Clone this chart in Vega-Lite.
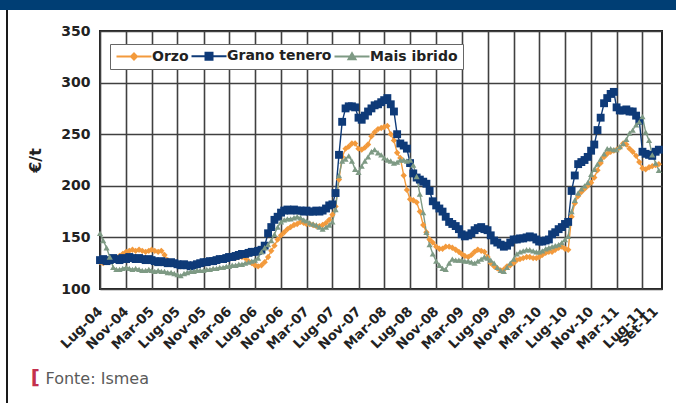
{
  "$schema": "https://vega.github.io/schema/vega-lite/v6.json",
  "background": "white",
  "padding": 0,
  "config": {"view": {"stroke": null}, "font": "DejaVu Sans"},
  "datasets": {
    "prices": [
      {"s":"Orzo","d":"2004-07-01","v":126},{"s":"Orzo","d":"2004-07-16","v":125},{"s":"Orzo","d":"2004-08-01","v":126},{"s":"Orzo","d":"2004-08-16","v":127},{"s":"Orzo","d":"2004-09-01","v":128},{"s":"Orzo","d":"2004-09-16","v":130},{"s":"Orzo","d":"2004-10-01","v":132},{"s":"Orzo","d":"2004-10-16","v":134},{"s":"Orzo","d":"2004-11-01","v":136},{"s":"Orzo","d":"2004-11-16","v":137},{"s":"Orzo","d":"2004-12-01","v":138},{"s":"Orzo","d":"2004-12-16","v":137},
      {"s":"Orzo","d":"2005-01-01","v":138},{"s":"Orzo","d":"2005-01-16","v":137},{"s":"Orzo","d":"2005-02-01","v":136},{"s":"Orzo","d":"2005-02-16","v":137},{"s":"Orzo","d":"2005-03-01","v":138},{"s":"Orzo","d":"2005-03-16","v":137},{"s":"Orzo","d":"2005-04-01","v":136},{"s":"Orzo","d":"2005-04-16","v":137},{"s":"Orzo","d":"2005-05-01","v":133},{"s":"Orzo","d":"2005-05-16","v":128},{"s":"Orzo","d":"2005-06-01","v":125},{"s":"Orzo","d":"2005-06-16","v":124},{"s":"Orzo","d":"2005-07-01","v":123},{"s":"Orzo","d":"2005-07-16","v":122},{"s":"Orzo","d":"2005-08-01","v":123},{"s":"Orzo","d":"2005-08-16","v":122},{"s":"Orzo","d":"2005-09-01","v":123},{"s":"Orzo","d":"2005-09-16","v":124},{"s":"Orzo","d":"2005-10-01","v":124},{"s":"Orzo","d":"2005-10-16","v":125},{"s":"Orzo","d":"2005-11-01","v":125},{"s":"Orzo","d":"2005-11-16","v":126},{"s":"Orzo","d":"2005-12-01","v":126},{"s":"Orzo","d":"2005-12-16","v":127},
      {"s":"Orzo","d":"2006-01-01","v":127},{"s":"Orzo","d":"2006-01-16","v":128},{"s":"Orzo","d":"2006-02-01","v":128},{"s":"Orzo","d":"2006-02-16","v":129},{"s":"Orzo","d":"2006-03-01","v":129},{"s":"Orzo","d":"2006-03-16","v":130},{"s":"Orzo","d":"2006-04-01","v":130},{"s":"Orzo","d":"2006-04-16","v":131},{"s":"Orzo","d":"2006-05-01","v":131},{"s":"Orzo","d":"2006-05-16","v":130},{"s":"Orzo","d":"2006-06-01","v":127},{"s":"Orzo","d":"2006-06-16","v":125},{"s":"Orzo","d":"2006-07-01","v":123},{"s":"Orzo","d":"2006-07-16","v":122},{"s":"Orzo","d":"2006-08-01","v":123},{"s":"Orzo","d":"2006-08-16","v":126},{"s":"Orzo","d":"2006-09-01","v":131},{"s":"Orzo","d":"2006-09-16","v":137},{"s":"Orzo","d":"2006-10-01","v":142},{"s":"Orzo","d":"2006-10-16","v":148},{"s":"Orzo","d":"2006-11-01","v":152},{"s":"Orzo","d":"2006-11-16","v":155},{"s":"Orzo","d":"2006-12-01","v":158},{"s":"Orzo","d":"2006-12-16","v":160},
      {"s":"Orzo","d":"2007-01-01","v":162},{"s":"Orzo","d":"2007-01-16","v":163},{"s":"Orzo","d":"2007-02-01","v":165},{"s":"Orzo","d":"2007-02-16","v":164},{"s":"Orzo","d":"2007-03-01","v":163},{"s":"Orzo","d":"2007-03-16","v":163},{"s":"Orzo","d":"2007-04-01","v":162},{"s":"Orzo","d":"2007-04-16","v":161},{"s":"Orzo","d":"2007-05-01","v":161},{"s":"Orzo","d":"2007-05-16","v":162},{"s":"Orzo","d":"2007-06-01","v":164},{"s":"Orzo","d":"2007-06-16","v":167},{"s":"Orzo","d":"2007-07-01","v":172},{"s":"Orzo","d":"2007-07-16","v":180},{"s":"Orzo","d":"2007-08-01","v":206},{"s":"Orzo","d":"2007-08-16","v":228},{"s":"Orzo","d":"2007-09-01","v":236},{"s":"Orzo","d":"2007-09-16","v":238},{"s":"Orzo","d":"2007-10-01","v":241},{"s":"Orzo","d":"2007-10-16","v":241},{"s":"Orzo","d":"2007-11-01","v":236},{"s":"Orzo","d":"2007-11-16","v":235},{"s":"Orzo","d":"2007-12-01","v":237},{"s":"Orzo","d":"2007-12-16","v":240},
      {"s":"Orzo","d":"2008-01-01","v":248},{"s":"Orzo","d":"2008-01-16","v":252},{"s":"Orzo","d":"2008-02-01","v":255},{"s":"Orzo","d":"2008-02-16","v":256},{"s":"Orzo","d":"2008-03-01","v":257},{"s":"Orzo","d":"2008-03-16","v":258},{"s":"Orzo","d":"2008-04-01","v":250},{"s":"Orzo","d":"2008-04-16","v":244},{"s":"Orzo","d":"2008-05-01","v":232},{"s":"Orzo","d":"2008-05-16","v":227},{"s":"Orzo","d":"2008-06-01","v":210},{"s":"Orzo","d":"2008-06-16","v":196},{"s":"Orzo","d":"2008-07-01","v":187},{"s":"Orzo","d":"2008-07-16","v":186},{"s":"Orzo","d":"2008-08-01","v":184},{"s":"Orzo","d":"2008-08-16","v":175},{"s":"Orzo","d":"2008-09-01","v":162},{"s":"Orzo","d":"2008-09-16","v":155},{"s":"Orzo","d":"2008-10-01","v":148},{"s":"Orzo","d":"2008-10-16","v":145},{"s":"Orzo","d":"2008-11-01","v":141},{"s":"Orzo","d":"2008-11-16","v":139},{"s":"Orzo","d":"2008-12-01","v":139},{"s":"Orzo","d":"2008-12-16","v":141},
      {"s":"Orzo","d":"2009-01-01","v":141},{"s":"Orzo","d":"2009-01-16","v":140},{"s":"Orzo","d":"2009-02-01","v":138},{"s":"Orzo","d":"2009-02-16","v":136},{"s":"Orzo","d":"2009-03-01","v":134},{"s":"Orzo","d":"2009-03-16","v":132},{"s":"Orzo","d":"2009-04-01","v":131},{"s":"Orzo","d":"2009-04-16","v":133},{"s":"Orzo","d":"2009-05-01","v":136},{"s":"Orzo","d":"2009-05-16","v":138},{"s":"Orzo","d":"2009-06-01","v":137},{"s":"Orzo","d":"2009-06-16","v":136},{"s":"Orzo","d":"2009-07-01","v":131},{"s":"Orzo","d":"2009-07-16","v":125},{"s":"Orzo","d":"2009-08-01","v":122},{"s":"Orzo","d":"2009-08-16","v":120},{"s":"Orzo","d":"2009-09-01","v":118},{"s":"Orzo","d":"2009-09-16","v":119},{"s":"Orzo","d":"2009-10-01","v":122},{"s":"Orzo","d":"2009-10-16","v":123},{"s":"Orzo","d":"2009-11-01","v":125},{"s":"Orzo","d":"2009-11-16","v":128},{"s":"Orzo","d":"2009-12-01","v":129},{"s":"Orzo","d":"2009-12-16","v":130},
      {"s":"Orzo","d":"2010-01-01","v":131},{"s":"Orzo","d":"2010-01-16","v":131},{"s":"Orzo","d":"2010-02-01","v":130},{"s":"Orzo","d":"2010-02-16","v":130},{"s":"Orzo","d":"2010-03-01","v":131},{"s":"Orzo","d":"2010-03-16","v":133},{"s":"Orzo","d":"2010-04-01","v":135},{"s":"Orzo","d":"2010-04-16","v":136},{"s":"Orzo","d":"2010-05-01","v":136},{"s":"Orzo","d":"2010-05-16","v":138},{"s":"Orzo","d":"2010-06-01","v":140},{"s":"Orzo","d":"2010-06-16","v":141},{"s":"Orzo","d":"2010-07-01","v":139},{"s":"Orzo","d":"2010-07-16","v":138},{"s":"Orzo","d":"2010-08-01","v":170},{"s":"Orzo","d":"2010-08-16","v":183},{"s":"Orzo","d":"2010-09-01","v":190},{"s":"Orzo","d":"2010-09-16","v":194},{"s":"Orzo","d":"2010-10-01","v":197},{"s":"Orzo","d":"2010-10-16","v":200},{"s":"Orzo","d":"2010-11-01","v":203},{"s":"Orzo","d":"2010-11-16","v":208},{"s":"Orzo","d":"2010-12-01","v":215},{"s":"Orzo","d":"2010-12-16","v":222},
      {"s":"Orzo","d":"2011-01-01","v":228},{"s":"Orzo","d":"2011-01-16","v":231},{"s":"Orzo","d":"2011-02-01","v":233},{"s":"Orzo","d":"2011-02-16","v":234},{"s":"Orzo","d":"2011-03-01","v":235},{"s":"Orzo","d":"2011-03-16","v":237},{"s":"Orzo","d":"2011-04-01","v":241},{"s":"Orzo","d":"2011-04-16","v":240},{"s":"Orzo","d":"2011-05-01","v":236},{"s":"Orzo","d":"2011-05-16","v":233},{"s":"Orzo","d":"2011-06-01","v":229},{"s":"Orzo","d":"2011-06-16","v":223},{"s":"Orzo","d":"2011-07-01","v":217},{"s":"Orzo","d":"2011-07-16","v":216},{"s":"Orzo","d":"2011-08-01","v":218},{"s":"Orzo","d":"2011-08-16","v":219},{"s":"Orzo","d":"2011-09-01","v":220},{"s":"Orzo","d":"2011-09-16","v":221},

      {"s":"Grano tenero","d":"2004-07-01","v":128},{"s":"Grano tenero","d":"2004-07-16","v":129},{"s":"Grano tenero","d":"2004-08-01","v":127},{"s":"Grano tenero","d":"2004-08-16","v":128},{"s":"Grano tenero","d":"2004-09-01","v":130},{"s":"Grano tenero","d":"2004-09-16","v":129},{"s":"Grano tenero","d":"2004-10-01","v":128},{"s":"Grano tenero","d":"2004-10-16","v":130},{"s":"Grano tenero","d":"2004-11-01","v":129},{"s":"Grano tenero","d":"2004-11-16","v":131},{"s":"Grano tenero","d":"2004-12-01","v":130},{"s":"Grano tenero","d":"2004-12-16","v":129},
      {"s":"Grano tenero","d":"2005-01-01","v":130},{"s":"Grano tenero","d":"2005-01-16","v":129},{"s":"Grano tenero","d":"2005-02-01","v":128},{"s":"Grano tenero","d":"2005-02-16","v":129},{"s":"Grano tenero","d":"2005-03-01","v":128},{"s":"Grano tenero","d":"2005-03-16","v":127},{"s":"Grano tenero","d":"2005-04-01","v":126},{"s":"Grano tenero","d":"2005-04-16","v":127},{"s":"Grano tenero","d":"2005-05-01","v":126},{"s":"Grano tenero","d":"2005-05-16","v":125},{"s":"Grano tenero","d":"2005-06-01","v":126},{"s":"Grano tenero","d":"2005-06-16","v":125},{"s":"Grano tenero","d":"2005-07-01","v":124},{"s":"Grano tenero","d":"2005-07-16","v":123},{"s":"Grano tenero","d":"2005-08-01","v":124},{"s":"Grano tenero","d":"2005-08-16","v":123},{"s":"Grano tenero","d":"2005-09-01","v":122},{"s":"Grano tenero","d":"2005-09-16","v":123},{"s":"Grano tenero","d":"2005-10-01","v":124},{"s":"Grano tenero","d":"2005-10-16","v":125},{"s":"Grano tenero","d":"2005-11-01","v":126},{"s":"Grano tenero","d":"2005-11-16","v":126},{"s":"Grano tenero","d":"2005-12-01","v":127},{"s":"Grano tenero","d":"2005-12-16","v":127},
      {"s":"Grano tenero","d":"2006-01-01","v":128},{"s":"Grano tenero","d":"2006-01-16","v":129},{"s":"Grano tenero","d":"2006-02-01","v":129},{"s":"Grano tenero","d":"2006-02-16","v":130},{"s":"Grano tenero","d":"2006-03-01","v":131},{"s":"Grano tenero","d":"2006-03-16","v":131},{"s":"Grano tenero","d":"2006-04-01","v":132},{"s":"Grano tenero","d":"2006-04-16","v":133},{"s":"Grano tenero","d":"2006-05-01","v":134},{"s":"Grano tenero","d":"2006-05-16","v":134},{"s":"Grano tenero","d":"2006-06-01","v":135},{"s":"Grano tenero","d":"2006-06-16","v":136},{"s":"Grano tenero","d":"2006-07-01","v":136},{"s":"Grano tenero","d":"2006-07-16","v":137},{"s":"Grano tenero","d":"2006-08-01","v":138},{"s":"Grano tenero","d":"2006-08-16","v":142},{"s":"Grano tenero","d":"2006-09-01","v":154},{"s":"Grano tenero","d":"2006-09-16","v":160},{"s":"Grano tenero","d":"2006-10-01","v":167},{"s":"Grano tenero","d":"2006-10-16","v":170},{"s":"Grano tenero","d":"2006-11-01","v":174},{"s":"Grano tenero","d":"2006-11-16","v":176},{"s":"Grano tenero","d":"2006-12-01","v":177},{"s":"Grano tenero","d":"2006-12-16","v":176},
      {"s":"Grano tenero","d":"2007-01-01","v":177},{"s":"Grano tenero","d":"2007-01-16","v":176},{"s":"Grano tenero","d":"2007-02-01","v":176},{"s":"Grano tenero","d":"2007-02-16","v":175},{"s":"Grano tenero","d":"2007-03-01","v":176},{"s":"Grano tenero","d":"2007-03-16","v":175},{"s":"Grano tenero","d":"2007-04-01","v":175},{"s":"Grano tenero","d":"2007-04-16","v":176},{"s":"Grano tenero","d":"2007-05-01","v":175},{"s":"Grano tenero","d":"2007-05-16","v":176},{"s":"Grano tenero","d":"2007-06-01","v":178},{"s":"Grano tenero","d":"2007-06-16","v":181},{"s":"Grano tenero","d":"2007-07-01","v":182},{"s":"Grano tenero","d":"2007-07-16","v":193},{"s":"Grano tenero","d":"2007-08-01","v":230},{"s":"Grano tenero","d":"2007-08-16","v":262},{"s":"Grano tenero","d":"2007-09-01","v":275},{"s":"Grano tenero","d":"2007-09-16","v":277},{"s":"Grano tenero","d":"2007-10-01","v":277},{"s":"Grano tenero","d":"2007-10-16","v":276},{"s":"Grano tenero","d":"2007-11-01","v":266},{"s":"Grano tenero","d":"2007-11-16","v":264},{"s":"Grano tenero","d":"2007-12-01","v":268},{"s":"Grano tenero","d":"2007-12-16","v":272},
      {"s":"Grano tenero","d":"2008-01-01","v":275},{"s":"Grano tenero","d":"2008-01-16","v":278},{"s":"Grano tenero","d":"2008-02-01","v":279},{"s":"Grano tenero","d":"2008-02-16","v":281},{"s":"Grano tenero","d":"2008-03-01","v":283},{"s":"Grano tenero","d":"2008-03-16","v":285},{"s":"Grano tenero","d":"2008-04-01","v":279},{"s":"Grano tenero","d":"2008-04-16","v":272},{"s":"Grano tenero","d":"2008-05-01","v":250},{"s":"Grano tenero","d":"2008-05-16","v":241},{"s":"Grano tenero","d":"2008-06-01","v":239},{"s":"Grano tenero","d":"2008-06-16","v":236},{"s":"Grano tenero","d":"2008-07-01","v":222},{"s":"Grano tenero","d":"2008-07-16","v":212},{"s":"Grano tenero","d":"2008-08-01","v":208},{"s":"Grano tenero","d":"2008-08-16","v":206},{"s":"Grano tenero","d":"2008-09-01","v":204},{"s":"Grano tenero","d":"2008-09-16","v":202},{"s":"Grano tenero","d":"2008-10-01","v":195},{"s":"Grano tenero","d":"2008-10-16","v":185},{"s":"Grano tenero","d":"2008-11-01","v":181},{"s":"Grano tenero","d":"2008-11-16","v":178},{"s":"Grano tenero","d":"2008-12-01","v":175},{"s":"Grano tenero","d":"2008-12-16","v":170},
      {"s":"Grano tenero","d":"2009-01-01","v":165},{"s":"Grano tenero","d":"2009-01-16","v":163},{"s":"Grano tenero","d":"2009-02-01","v":161},{"s":"Grano tenero","d":"2009-02-16","v":158},{"s":"Grano tenero","d":"2009-03-01","v":153},{"s":"Grano tenero","d":"2009-03-16","v":151},{"s":"Grano tenero","d":"2009-04-01","v":152},{"s":"Grano tenero","d":"2009-04-16","v":154},{"s":"Grano tenero","d":"2009-05-01","v":157},{"s":"Grano tenero","d":"2009-05-16","v":159},{"s":"Grano tenero","d":"2009-06-01","v":160},{"s":"Grano tenero","d":"2009-06-16","v":158},{"s":"Grano tenero","d":"2009-07-01","v":157},{"s":"Grano tenero","d":"2009-07-16","v":152},{"s":"Grano tenero","d":"2009-08-01","v":147},{"s":"Grano tenero","d":"2009-08-16","v":145},{"s":"Grano tenero","d":"2009-09-01","v":143},{"s":"Grano tenero","d":"2009-09-16","v":141},{"s":"Grano tenero","d":"2009-10-01","v":142},{"s":"Grano tenero","d":"2009-10-16","v":145},{"s":"Grano tenero","d":"2009-11-01","v":148},{"s":"Grano tenero","d":"2009-11-16","v":148},{"s":"Grano tenero","d":"2009-12-01","v":149},{"s":"Grano tenero","d":"2009-12-16","v":149},
      {"s":"Grano tenero","d":"2010-01-01","v":150},{"s":"Grano tenero","d":"2010-01-16","v":151},{"s":"Grano tenero","d":"2010-02-01","v":150},{"s":"Grano tenero","d":"2010-02-16","v":148},{"s":"Grano tenero","d":"2010-03-01","v":146},{"s":"Grano tenero","d":"2010-03-16","v":146},{"s":"Grano tenero","d":"2010-04-01","v":147},{"s":"Grano tenero","d":"2010-04-16","v":148},{"s":"Grano tenero","d":"2010-05-01","v":153},{"s":"Grano tenero","d":"2010-05-16","v":155},{"s":"Grano tenero","d":"2010-06-01","v":158},{"s":"Grano tenero","d":"2010-06-16","v":160},{"s":"Grano tenero","d":"2010-07-01","v":163},{"s":"Grano tenero","d":"2010-07-16","v":165},{"s":"Grano tenero","d":"2010-08-01","v":195},{"s":"Grano tenero","d":"2010-08-16","v":210},{"s":"Grano tenero","d":"2010-09-01","v":221},{"s":"Grano tenero","d":"2010-09-16","v":223},{"s":"Grano tenero","d":"2010-10-01","v":225},{"s":"Grano tenero","d":"2010-10-16","v":228},{"s":"Grano tenero","d":"2010-11-01","v":234},{"s":"Grano tenero","d":"2010-11-16","v":240},{"s":"Grano tenero","d":"2010-12-01","v":254},{"s":"Grano tenero","d":"2010-12-16","v":266},
      {"s":"Grano tenero","d":"2011-01-01","v":280},{"s":"Grano tenero","d":"2011-01-16","v":285},{"s":"Grano tenero","d":"2011-02-01","v":289},{"s":"Grano tenero","d":"2011-02-16","v":291},{"s":"Grano tenero","d":"2011-03-01","v":276},{"s":"Grano tenero","d":"2011-03-16","v":273},{"s":"Grano tenero","d":"2011-04-01","v":273},{"s":"Grano tenero","d":"2011-04-16","v":274},{"s":"Grano tenero","d":"2011-05-01","v":272},{"s":"Grano tenero","d":"2011-05-16","v":272},{"s":"Grano tenero","d":"2011-06-01","v":268},{"s":"Grano tenero","d":"2011-06-16","v":263},{"s":"Grano tenero","d":"2011-07-01","v":233},{"s":"Grano tenero","d":"2011-07-16","v":231},{"s":"Grano tenero","d":"2011-08-01","v":230},{"s":"Grano tenero","d":"2011-08-16","v":229},{"s":"Grano tenero","d":"2011-09-01","v":233},{"s":"Grano tenero","d":"2011-09-16","v":235},

      {"s":"Mais ibrido","d":"2004-07-01","v":154},{"s":"Mais ibrido","d":"2004-07-16","v":147},{"s":"Mais ibrido","d":"2004-08-01","v":140},{"s":"Mais ibrido","d":"2004-08-16","v":131},{"s":"Mais ibrido","d":"2004-09-01","v":121},{"s":"Mais ibrido","d":"2004-09-16","v":119},{"s":"Mais ibrido","d":"2004-10-01","v":119},{"s":"Mais ibrido","d":"2004-10-16","v":120},{"s":"Mais ibrido","d":"2004-11-01","v":121},{"s":"Mais ibrido","d":"2004-11-16","v":120},{"s":"Mais ibrido","d":"2004-12-01","v":119},{"s":"Mais ibrido","d":"2004-12-16","v":120},
      {"s":"Mais ibrido","d":"2005-01-01","v":119},{"s":"Mais ibrido","d":"2005-01-16","v":118},{"s":"Mais ibrido","d":"2005-02-01","v":118},{"s":"Mais ibrido","d":"2005-02-16","v":119},{"s":"Mais ibrido","d":"2005-03-01","v":118},{"s":"Mais ibrido","d":"2005-03-16","v":117},{"s":"Mais ibrido","d":"2005-04-01","v":118},{"s":"Mais ibrido","d":"2005-04-16","v":117},{"s":"Mais ibrido","d":"2005-05-01","v":117},{"s":"Mais ibrido","d":"2005-05-16","v":116},{"s":"Mais ibrido","d":"2005-06-01","v":116},{"s":"Mais ibrido","d":"2005-06-16","v":115},{"s":"Mais ibrido","d":"2005-07-01","v":114},{"s":"Mais ibrido","d":"2005-07-16","v":113},{"s":"Mais ibrido","d":"2005-08-01","v":115},{"s":"Mais ibrido","d":"2005-08-16","v":116},{"s":"Mais ibrido","d":"2005-09-01","v":117},{"s":"Mais ibrido","d":"2005-09-16","v":117},{"s":"Mais ibrido","d":"2005-10-01","v":118},{"s":"Mais ibrido","d":"2005-10-16","v":118},{"s":"Mais ibrido","d":"2005-11-01","v":118},{"s":"Mais ibrido","d":"2005-11-16","v":119},{"s":"Mais ibrido","d":"2005-12-01","v":119},{"s":"Mais ibrido","d":"2005-12-16","v":120},
      {"s":"Mais ibrido","d":"2006-01-01","v":120},{"s":"Mais ibrido","d":"2006-01-16","v":121},{"s":"Mais ibrido","d":"2006-02-01","v":121},{"s":"Mais ibrido","d":"2006-02-16","v":122},{"s":"Mais ibrido","d":"2006-03-01","v":122},{"s":"Mais ibrido","d":"2006-03-16","v":123},{"s":"Mais ibrido","d":"2006-04-01","v":123},{"s":"Mais ibrido","d":"2006-04-16","v":124},{"s":"Mais ibrido","d":"2006-05-01","v":124},{"s":"Mais ibrido","d":"2006-05-16","v":125},{"s":"Mais ibrido","d":"2006-06-01","v":126},{"s":"Mais ibrido","d":"2006-06-16","v":127},{"s":"Mais ibrido","d":"2006-07-01","v":128},{"s":"Mais ibrido","d":"2006-07-16","v":130},{"s":"Mais ibrido","d":"2006-08-01","v":136},{"s":"Mais ibrido","d":"2006-08-16","v":140},{"s":"Mais ibrido","d":"2006-09-01","v":143},{"s":"Mais ibrido","d":"2006-09-16","v":147},{"s":"Mais ibrido","d":"2006-10-01","v":153},{"s":"Mais ibrido","d":"2006-10-16","v":160},{"s":"Mais ibrido","d":"2006-11-01","v":165},{"s":"Mais ibrido","d":"2006-11-16","v":167},{"s":"Mais ibrido","d":"2006-12-01","v":168},{"s":"Mais ibrido","d":"2006-12-16","v":168},
      {"s":"Mais ibrido","d":"2007-01-01","v":169},{"s":"Mais ibrido","d":"2007-01-16","v":170},{"s":"Mais ibrido","d":"2007-02-01","v":169},{"s":"Mais ibrido","d":"2007-02-16","v":167},{"s":"Mais ibrido","d":"2007-03-01","v":166},{"s":"Mais ibrido","d":"2007-03-16","v":164},{"s":"Mais ibrido","d":"2007-04-01","v":163},{"s":"Mais ibrido","d":"2007-04-16","v":162},{"s":"Mais ibrido","d":"2007-05-01","v":160},{"s":"Mais ibrido","d":"2007-05-16","v":158},{"s":"Mais ibrido","d":"2007-06-01","v":160},{"s":"Mais ibrido","d":"2007-06-16","v":162},{"s":"Mais ibrido","d":"2007-07-01","v":165},{"s":"Mais ibrido","d":"2007-07-16","v":177},{"s":"Mais ibrido","d":"2007-08-01","v":210},{"s":"Mais ibrido","d":"2007-08-16","v":224},{"s":"Mais ibrido","d":"2007-09-01","v":226},{"s":"Mais ibrido","d":"2007-09-16","v":229},{"s":"Mais ibrido","d":"2007-10-01","v":224},{"s":"Mais ibrido","d":"2007-10-16","v":216},{"s":"Mais ibrido","d":"2007-11-01","v":213},{"s":"Mais ibrido","d":"2007-11-16","v":219},{"s":"Mais ibrido","d":"2007-12-01","v":224},{"s":"Mais ibrido","d":"2007-12-16","v":228},
      {"s":"Mais ibrido","d":"2008-01-01","v":233},{"s":"Mais ibrido","d":"2008-01-16","v":235},{"s":"Mais ibrido","d":"2008-02-01","v":232},{"s":"Mais ibrido","d":"2008-02-16","v":230},{"s":"Mais ibrido","d":"2008-03-01","v":227},{"s":"Mais ibrido","d":"2008-03-16","v":225},{"s":"Mais ibrido","d":"2008-04-01","v":224},{"s":"Mais ibrido","d":"2008-04-16","v":222},{"s":"Mais ibrido","d":"2008-05-01","v":223},{"s":"Mais ibrido","d":"2008-05-16","v":225},{"s":"Mais ibrido","d":"2008-06-01","v":225},{"s":"Mais ibrido","d":"2008-06-16","v":224},{"s":"Mais ibrido","d":"2008-07-01","v":225},{"s":"Mais ibrido","d":"2008-07-16","v":220},{"s":"Mais ibrido","d":"2008-08-01","v":209},{"s":"Mais ibrido","d":"2008-08-16","v":192},{"s":"Mais ibrido","d":"2008-09-01","v":174},{"s":"Mais ibrido","d":"2008-09-16","v":155},{"s":"Mais ibrido","d":"2008-10-01","v":143},{"s":"Mais ibrido","d":"2008-10-16","v":134},{"s":"Mais ibrido","d":"2008-11-01","v":127},{"s":"Mais ibrido","d":"2008-11-16","v":123},{"s":"Mais ibrido","d":"2008-12-01","v":120},{"s":"Mais ibrido","d":"2008-12-16","v":119},
      {"s":"Mais ibrido","d":"2009-01-01","v":125},{"s":"Mais ibrido","d":"2009-01-16","v":129},{"s":"Mais ibrido","d":"2009-02-01","v":128},{"s":"Mais ibrido","d":"2009-02-16","v":128},{"s":"Mais ibrido","d":"2009-03-01","v":128},{"s":"Mais ibrido","d":"2009-03-16","v":127},{"s":"Mais ibrido","d":"2009-04-01","v":127},{"s":"Mais ibrido","d":"2009-04-16","v":126},{"s":"Mais ibrido","d":"2009-05-01","v":125},{"s":"Mais ibrido","d":"2009-05-16","v":127},{"s":"Mais ibrido","d":"2009-06-01","v":129},{"s":"Mais ibrido","d":"2009-06-16","v":131},{"s":"Mais ibrido","d":"2009-07-01","v":130},{"s":"Mais ibrido","d":"2009-07-16","v":128},{"s":"Mais ibrido","d":"2009-08-01","v":125},{"s":"Mais ibrido","d":"2009-08-16","v":121},{"s":"Mais ibrido","d":"2009-09-01","v":118},{"s":"Mais ibrido","d":"2009-09-16","v":117},{"s":"Mais ibrido","d":"2009-10-01","v":121},{"s":"Mais ibrido","d":"2009-10-16","v":125},{"s":"Mais ibrido","d":"2009-11-01","v":129},{"s":"Mais ibrido","d":"2009-11-16","v":134},{"s":"Mais ibrido","d":"2009-12-01","v":136},{"s":"Mais ibrido","d":"2009-12-16","v":137},
      {"s":"Mais ibrido","d":"2010-01-01","v":138},{"s":"Mais ibrido","d":"2010-01-16","v":138},{"s":"Mais ibrido","d":"2010-02-01","v":137},{"s":"Mais ibrido","d":"2010-02-16","v":136},{"s":"Mais ibrido","d":"2010-03-01","v":136},{"s":"Mais ibrido","d":"2010-03-16","v":137},{"s":"Mais ibrido","d":"2010-04-01","v":139},{"s":"Mais ibrido","d":"2010-04-16","v":140},{"s":"Mais ibrido","d":"2010-05-01","v":141},{"s":"Mais ibrido","d":"2010-05-16","v":142},{"s":"Mais ibrido","d":"2010-06-01","v":143},{"s":"Mais ibrido","d":"2010-06-16","v":145},{"s":"Mais ibrido","d":"2010-07-01","v":148},{"s":"Mais ibrido","d":"2010-07-16","v":151},{"s":"Mais ibrido","d":"2010-08-01","v":175},{"s":"Mais ibrido","d":"2010-08-16","v":186},{"s":"Mais ibrido","d":"2010-09-01","v":193},{"s":"Mais ibrido","d":"2010-09-16","v":197},{"s":"Mais ibrido","d":"2010-10-01","v":200},{"s":"Mais ibrido","d":"2010-10-16","v":203},{"s":"Mais ibrido","d":"2010-11-01","v":211},{"s":"Mais ibrido","d":"2010-11-16","v":216},{"s":"Mais ibrido","d":"2010-12-01","v":221},{"s":"Mais ibrido","d":"2010-12-16","v":226},
      {"s":"Mais ibrido","d":"2011-01-01","v":231},{"s":"Mais ibrido","d":"2011-01-16","v":236},{"s":"Mais ibrido","d":"2011-02-01","v":236},{"s":"Mais ibrido","d":"2011-02-16","v":235},{"s":"Mais ibrido","d":"2011-03-01","v":235},{"s":"Mais ibrido","d":"2011-03-16","v":238},{"s":"Mais ibrido","d":"2011-04-01","v":241},{"s":"Mais ibrido","d":"2011-04-16","v":245},{"s":"Mais ibrido","d":"2011-05-01","v":251},{"s":"Mais ibrido","d":"2011-05-16","v":254},{"s":"Mais ibrido","d":"2011-06-01","v":259},{"s":"Mais ibrido","d":"2011-06-16","v":262},{"s":"Mais ibrido","d":"2011-07-01","v":267},{"s":"Mais ibrido","d":"2011-07-16","v":252},{"s":"Mais ibrido","d":"2011-08-01","v":244},{"s":"Mais ibrido","d":"2011-08-16","v":230},{"s":"Mais ibrido","d":"2011-09-01","v":222},{"s":"Mais ibrido","d":"2011-09-16","v":215}
    ]
  },
  "bounds": "flush",
  "spacing": 0,
  "resolve": {"scale": {"color": "independent"}, "legend": {"color": "independent"}},
  "vconcat": [
    {
      "width": 676,
      "height": 10,
      "view": {"fill": "#003e74", "stroke": null},
      "data": {"values": []},
      "mark": "rule",
      "encoding": {}
    },
    {
      "bounds": "flush",
      "spacing": 100,
      "resolve": {"scale": {"color": "independent"}, "legend": {"color": "independent"}},
      "hconcat": [
        {
          "bounds": "flush",
          "spacing": 0,
          "hconcat": [
            {"width": 6, "height": 393, "view": {"stroke": null}, "data": {"values": []}, "mark": "rule", "encoding": {}},
            {"width": 2, "height": 393, "view": {"fill": "#1a1a1a", "stroke": null}, "data": {"values": []}, "mark": "rule", "encoding": {}}
          ]
        },
        {
          "bounds": "flush",
          "spacing": 0,
          "resolve": {"scale": {"color": "independent"}, "legend": {"color": "independent"}},
          "vconcat": [
            {"width": 562, "height": 21, "view": {"stroke": null}, "data": {"values": []}, "mark": "rule", "encoding": {}},
            {
              "width": 562,
              "height": 258,
              "view": {"stroke": "#222222", "strokeWidth": 2},
              "data": {"name": "prices"},
              "title": {
                "text": "[",
                "orient": "bottom",
                "anchor": "start",
                "frame": "bounds",
                "offset": -18,
                "dx": 3,
                "font": "DejaVu Sans",
                "fontSize": 20,
                "fontWeight": "bold",
                "color": "#c4304d"
              },
              "encoding": {
                "y": {
                  "field": "v",
                  "type": "quantitative",
                  "scale": {"domain": [100, 350], "nice": false, "zero": false},
                  "axis": {
                    "values": [100, 150, 200, 250, 300, 350],
                    "title": "€/t",
                    "titleFont": "DejaVu Sans",
                    "titleFontSize": 16,
                    "titleFontWeight": "bold",
                    "titleColor": "#222222",
                    "titlePadding": 17,
                    "labelFont": "DejaVu Sans",
                    "labelFontWeight": "bold",
                    "labelFontSize": 14,
                    "labelColor": "#222222",
                    "labelPadding": 10,
                    "ticks": false,
                    "domain": false,
                    "grid": true,
                    "gridColor": "#404040",
                    "gridWidth": 1.6
                  }
                },
                "color": {
                  "field": "s",
                  "type": "nominal",
                  "scale": {
                    "domain": ["Orzo", "Grano tenero", "Mais ibrido"],
                    "range": ["#f39a3c", "#0e3a78", "#7e9a84"]
                  },
                  "legend": {
                    "title": null,
                    "orient": "none",
                    "legendX": 10,
                    "legendY": 13,
                    "direction": "horizontal",
                    "fillColor": "white",
                    "strokeColor": "#666666",
                    "padding": 5,
                    "symbolSize": 100,
                    "symbolOffset": 12,
                    "symbolStrokeWidth": 2,
                    "labelOffset": 11,
                    "columnPadding": -2,
                    "labelFont": "DejaVu Sans",
                    "labelFontWeight": "bold",
                    "labelFontSize": 14,
                    "labelColor": "#222222",
                    "encoding": {
                      "symbols": {
                        "shape": {
                          "condition": [
                            {"test": "datum.value === 'Orzo'", "value": "M-3.5,0H3.5M0,-0.6L0.6,0L0,0.6L-0.6,0Z"},
                            {"test": "datum.value === 'Grano tenero'", "value": "M-3.5,0H3.5M-0.7,-0.7H0.7V0.7H-0.7Z"}
                          ],
                          "value": "M-3.5,0H3.5M0,-0.65L0.7,0.55H-0.7Z"
                        },
                        "fill": {
                          "condition": [
                            {"test": "datum.value === 'Orzo'", "value": "#f39a3c"},
                            {"test": "datum.value === 'Grano tenero'", "value": "#0e3a78"}
                          ],
                          "value": "#7e9a84"
                        },
                        "stroke": {
                          "condition": [
                            {"test": "datum.value === 'Orzo'", "value": "#f39a3c"},
                            {"test": "datum.value === 'Grano tenero'", "value": "#0e3a78"}
                          ],
                          "value": "#7e9a84"
                        },
                        "strokeWidth": {"value": 2},
                        "opacity": {"value": 1}
                      }
                    }
                  }
                }
              },
              "resolve": {"axis": {"x": "independent"}},
              "layer": [
                {
                  "mark": {"type": "line", "strokeWidth": 1.4},
                  "encoding": {
                    "x": {
                      "field": "d",
                      "type": "temporal",
                      "scale": {
                        "type": "utc",
                        "domain": [
                          {"year": 2004, "month": 7, "date": 1, "utc": true},
                          {"year": 2011, "month": 10, "date": 1, "utc": true}
                        ]
                      },
                      "axis": {
                        "orient": "top",
                        "values": [
                          {"year": 2004, "month": 7, "date": 1, "utc": true},
                          {"year": 2004, "month": 11, "date": 1, "utc": true},
                          {"year": 2005, "month": 3, "date": 1, "utc": true},
                          {"year": 2005, "month": 7, "date": 1, "utc": true},
                          {"year": 2005, "month": 11, "date": 1, "utc": true},
                          {"year": 2006, "month": 3, "date": 1, "utc": true},
                          {"year": 2006, "month": 7, "date": 1, "utc": true},
                          {"year": 2006, "month": 11, "date": 1, "utc": true},
                          {"year": 2007, "month": 3, "date": 1, "utc": true},
                          {"year": 2007, "month": 7, "date": 1, "utc": true},
                          {"year": 2007, "month": 11, "date": 1, "utc": true},
                          {"year": 2008, "month": 3, "date": 1, "utc": true},
                          {"year": 2008, "month": 7, "date": 1, "utc": true},
                          {"year": 2008, "month": 11, "date": 1, "utc": true},
                          {"year": 2009, "month": 3, "date": 1, "utc": true},
                          {"year": 2009, "month": 7, "date": 1, "utc": true},
                          {"year": 2009, "month": 11, "date": 1, "utc": true},
                          {"year": 2010, "month": 3, "date": 1, "utc": true},
                          {"year": 2010, "month": 7, "date": 1, "utc": true},
                          {"year": 2010, "month": 11, "date": 1, "utc": true},
                          {"year": 2011, "month": 3, "date": 1, "utc": true},
                          {"year": 2011, "month": 7, "date": 1, "utc": true}
                        ],
                        "labels": false,
                        "ticks": false,
                        "domain": false,
                        "title": null,
                        "grid": true,
                        "gridColor": "#404040",
                        "gridWidth": 1.6
                      }
                    }
                  }
                },
                {
                  "transform": [{"filter": "datum.s === 'Orzo'"}],
                  "mark": {"type": "point", "shape": "diamond", "filled": true, "size": 40, "opacity": 1},
                  "encoding": {
                    "x": {
                      "field": "d",
                      "type": "temporal",
                      "scale": {
                        "type": "utc",
                        "domain": [
                          {"year": 2004, "month": 7, "date": 1, "utc": true},
                          {"year": 2011, "month": 10, "date": 1, "utc": true}
                        ]
                      },
                      "axis": {
                        "orient": "bottom",
                        "values": [
                          {"year": 2004, "month": 7, "date": 1, "utc": true},
                          {"year": 2004, "month": 11, "date": 1, "utc": true},
                          {"year": 2005, "month": 3, "date": 1, "utc": true},
                          {"year": 2005, "month": 7, "date": 1, "utc": true},
                          {"year": 2005, "month": 11, "date": 1, "utc": true},
                          {"year": 2006, "month": 3, "date": 1, "utc": true},
                          {"year": 2006, "month": 7, "date": 1, "utc": true},
                          {"year": 2006, "month": 11, "date": 1, "utc": true},
                          {"year": 2007, "month": 3, "date": 1, "utc": true},
                          {"year": 2007, "month": 7, "date": 1, "utc": true},
                          {"year": 2007, "month": 11, "date": 1, "utc": true},
                          {"year": 2008, "month": 3, "date": 1, "utc": true},
                          {"year": 2008, "month": 7, "date": 1, "utc": true},
                          {"year": 2008, "month": 11, "date": 1, "utc": true},
                          {"year": 2009, "month": 3, "date": 1, "utc": true},
                          {"year": 2009, "month": 7, "date": 1, "utc": true},
                          {"year": 2009, "month": 11, "date": 1, "utc": true},
                          {"year": 2010, "month": 3, "date": 1, "utc": true},
                          {"year": 2010, "month": 7, "date": 1, "utc": true},
                          {"year": 2010, "month": 11, "date": 1, "utc": true},
                          {"year": 2011, "month": 3, "date": 1, "utc": true},
                          {"year": 2011, "month": 7, "date": 1, "utc": true},
                          {"year": 2011, "month": 9, "date": 1, "utc": true}
                        ],
                        "labelExpr": "['Gen','Feb','Mar','Apr','Mag','Giu','Lug','Ago','Set','Ott','Nov','Dic'][utcmonth(datum.value)] + '-' + utcFormat(datum.value, '%y')",
                        "labelAngle": -45,
                        "labelAlign": "right",
                        "labelBaseline": "middle",
                        "labelFont": "DejaVu Sans",
                        "labelFontWeight": "bold",
                        "labelFontSize": 13.5,
                        "labelColor": "#222222",
                        "labelPadding": 20,
                        "labelOverlap": false,
                        "labelFlush": false,
                        "labelBound": false,
                        "ticks": false,
                        "domain": false,
                        "grid": false,
                        "title": "Fonte: Ismea",
                        "titleAnchor": "start",
                        "titleAlign": "left",
                        "titleBaseline": "middle",
                        "titleX": -55,
                        "titleY": 89,
                        "titleFont": "DejaVu Sans",
                        "titleFontWeight": "normal",
                        "titleFontSize": 16,
                        "titleColor": "#5a5a5a"
                      }
                    }
                  }
                },
                {
                  "transform": [{"filter": "datum.s === 'Grano tenero'"}],
                  "mark": {"type": "point", "shape": "square", "filled": true, "size": 62, "opacity": 1},
                  "encoding": {"x": {"field": "d", "type": "temporal", "axis": null}}
                },
                {
                  "transform": [{"filter": "datum.s === 'Mais ibrido'"}],
                  "mark": {"type": "point", "shape": "triangle-up", "filled": true, "size": 38, "opacity": 1},
                  "encoding": {"x": {"field": "d", "type": "temporal", "axis": null}}
                }
              ]
            }
          ]
        }
      ]
    }
  ]
}
